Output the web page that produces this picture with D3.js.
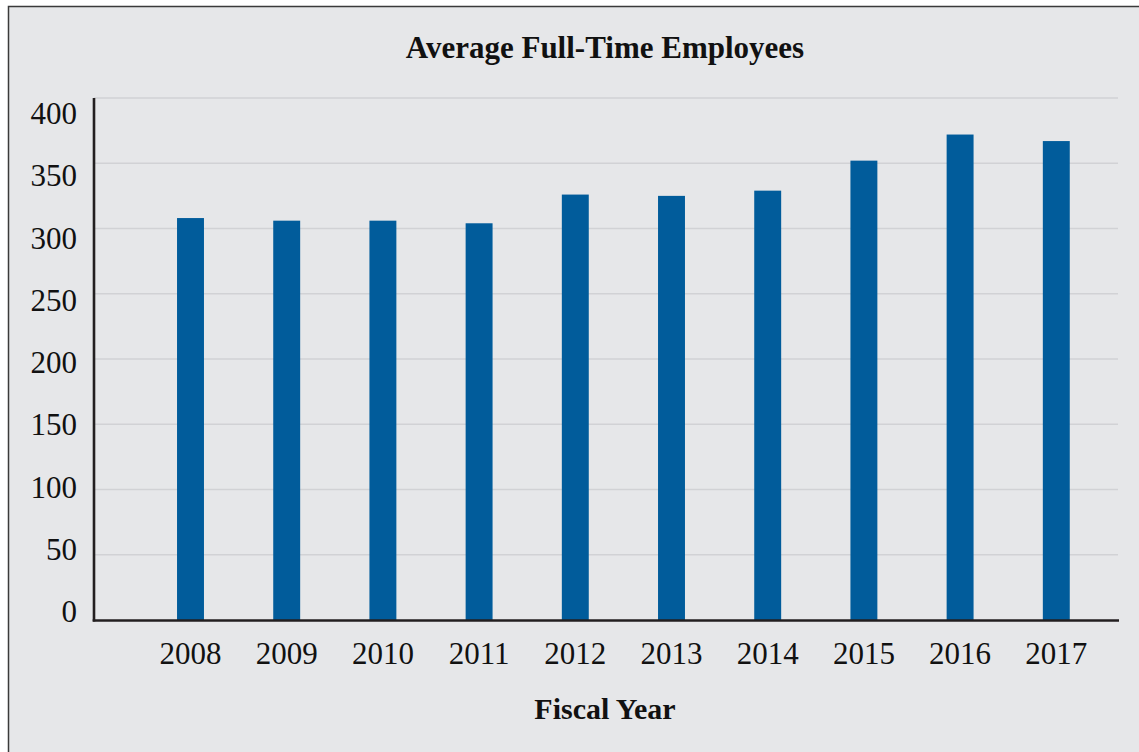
<!DOCTYPE html>
<html>
<head>
<meta charset="utf-8">
<script src="https://cdn.jsdelivr.net/npm/d3@7"></script>
<style>
  html, body { margin: 0; padding: 0; background: #ffffff; }
  svg { display: block; }
</style>
</head>
<body>
<svg id="chart" width="1139" height="752"></svg>
<script>
const years = ["2008","2009","2010","2011","2012","2013","2014","2015","2016","2017"];
const employees = [308, 306, 306, 304, 326, 325, 329, 352, 372, 367];
const yTicks = [0, 50, 100, 150, 200, 250, 300, 350, 400];
const titleText = "Average Full-Time Employees";
const xAxisTitle = "Fiscal Year";

const W = 1139, H = 752;
const svg = d3.select("#chart");
const font = "'Liberation Serif', 'DejaVu Serif', serif";

// panel background with border
svg.append("rect")
  .attr("x", 8.5).attr("y", 6.5)
  .attr("width", W + 20).attr("height", H + 20)
  .attr("fill", "#e6e7e9")
  .attr("stroke", "#3a3a3a")
  .attr("stroke-width", 1.5);

const axisX = 94, axisRight = 1119;
const x = d3.scaleBand()
  .domain(years)
  .range([142.4, 1104.4])
  .paddingInner(0.72)
  .paddingOuter(0.36);

const y = d3.scaleLinear().domain([0, 400]).range([620, 98]);
// tick labels sit on a slightly different (evenly spaced) grid in the original
const yLabel = d3.scaleLinear().domain([0, 400]).range([611, 113]);

// gridlines
svg.append("g")
  .selectAll("line")
  .data(yTicks.filter(d => d > 0))
  .join("line")
  .attr("x1", axisX).attr("x2", 1118)
  .attr("y1", d => y(d)).attr("y2", d => y(d))
  .attr("stroke", "#d1d2d5")
  .attr("stroke-width", 1.6);

// bars
svg.append("g")
  .selectAll("rect")
  .data(years.map((yr, i) => ({ yr, v: employees[i] })))
  .join("rect")
  .attr("x", d => x(d.yr))
  .attr("width", x.bandwidth())
  .attr("y", d => y(d.v))
  .attr("height", d => y(0) - y(d.v) + 1)
  .attr("fill", "#015c9b");

// y axis labels
const yAxis = d3.axisLeft(yLabel).tickValues(yTicks).tickSize(0).tickPadding(17);
const gy = svg.append("g").attr("transform", `translate(${axisX},0)`).call(yAxis);
gy.select(".domain").remove();
gy.selectAll("text")
  .attr("font-family", font)
  .attr("font-size", 31)
  .attr("fill", "#111")
  .attr("dy", "0.34em");

// x axis labels
const xAxis = d3.axisBottom(x).tickSize(0).tickPadding(22);
const gx = svg.append("g").attr("transform", `translate(0,${y(0)})`).call(xAxis);
gx.select(".domain").remove();
gx.selectAll("text")
  .attr("font-family", font)
  .attr("font-size", 31)
  .attr("fill", "#111");

// axis lines
svg.append("line")
  .attr("x1", axisX).attr("x2", axisX)
  .attr("y1", y(400)).attr("y2", y(0) + 1.5)
  .attr("stroke", "#231f20").attr("stroke-width", 2.6);
svg.append("line")
  .attr("x1", axisX - 1.3).attr("x2", axisRight)
  .attr("y1", y(0) + 0.5).attr("y2", y(0) + 0.5)
  .attr("stroke", "#231f20").attr("stroke-width", 2.6);

// title
svg.append("text")
  .attr("x", 605).attr("y", 58)
  .attr("text-anchor", "middle")
  .attr("font-family", font)
  .attr("font-weight", "bold")
  .attr("font-size", 31)
  .attr("fill", "#111")
  .text(titleText);

svg.append("text")
  .attr("x", 605).attr("y", 719)
  .attr("text-anchor", "middle")
  .attr("font-family", font)
  .attr("font-weight", "bold")
  .attr("font-size", 30)
  .attr("fill", "#111")
  .text(xAxisTitle);
</script>
</body>
</html>
